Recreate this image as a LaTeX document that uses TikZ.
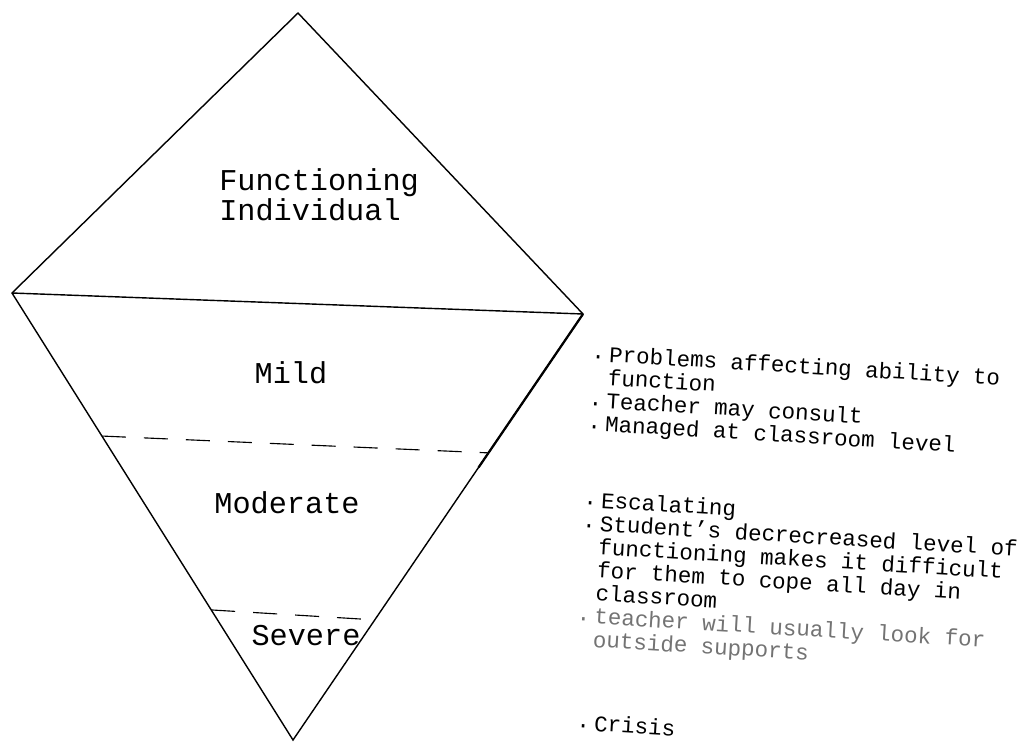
\documentclass[tikz,border=0pt]{standalone}
\usepackage{fontspec}
\setmonofont{Liberation Mono}
\usetikzlibrary{calc}

% dot in front of each note, set at mid x-height
\newcommand{\itemdot}{\raisebox{0.1em}{.}}

\begin{document}
\begin{tikzpicture}[
  edge/.style={line width=1pt},
  divider/.style={line width=0.8pt, dash pattern=on 0.6cm off 0.45cm},
  level/.style={font=\ttfamily\fontsize{21.5}{20}\selectfont, anchor=base, inner sep=0pt},
  notes/.style={font=\ttfamily\fontsize{16}{16.4}\selectfont, anchor=base west, rotate=-3.4, inner sep=0pt},
]
  \useasboundingbox (0,0) rectangle (25.75,-18.525);

  % corners of the diamond
  \coordinate (top) at (7.45,-0.325);
  \coordinate (left) at (0.3,-7.325);
  \coordinate (right) at (14.575,-7.85);
  \coordinate (bottom) at (7.325,-18.5);

  % outline and the solid split
  \draw[edge] (left) -- (top) -- (right) -- (bottom) -- cycle;
  \draw[edge] (left) -- (right);
  \draw[line width=1.6pt] (right) -- ($(right)!0.36!(bottom)$);

  % dashed splits between the levels
  \coordinate (mildL) at ($(left)!0.32!(bottom)$);
  \coordinate (mildR) at ($(right)!0.326!(bottom)$);
  \coordinate (sevL) at ($(left)!0.709!(bottom)$);
  \coordinate (sevR) at ($(right)!0.718!(bottom)$);
  \draw[divider] (mildL) -- (mildR);
  \draw[divider] (sevL) -- (sevR);

  % level names
  \node[level, align=left, anchor=west] (func) at (5.475,-4.875) {Functioning\\Individual};
  \node[level] (mild) at (7.275,-9.575) {Mild};
  \node[level] (moderate) at (7.175,-12.825) {Moderate};
  \node[level] (severe) at (7.65,-16.125) {Severe};

  % notes beside each level
  \node[notes] (mildnotes) at (14.775,-9.025) {\begin{tabular}[t]{@{}l@{\hspace{3pt}}l@{}}
    \itemdot & Problems affecting ability to\\
             & function\\
    \itemdot & Teacher may consult\\
    \itemdot & Managed at classroom level
  \end{tabular}};
  \node[notes] (modnotes) at (14.575,-12.675) {\begin{tabular}[t]{@{}l@{\hspace{3pt}}l@{}}
    \itemdot & Escalating\\
    \itemdot & Student’s decrecreased level of\\
             & functioning makes it difficult\\
             & for them to cope all day in\\
             & classroom\\
    \color{black!55}\itemdot & \color{black!55}teacher will usually look for\\
             & \color{black!55}outside supports
  \end{tabular}};
  \node[notes] (sevnotes) at (14.4,-18.25) {\begin{tabular}[t]{@{}l@{\hspace{3pt}}l@{}}
    \itemdot & Crisis
  \end{tabular}};
\end{tikzpicture}
\end{document}
